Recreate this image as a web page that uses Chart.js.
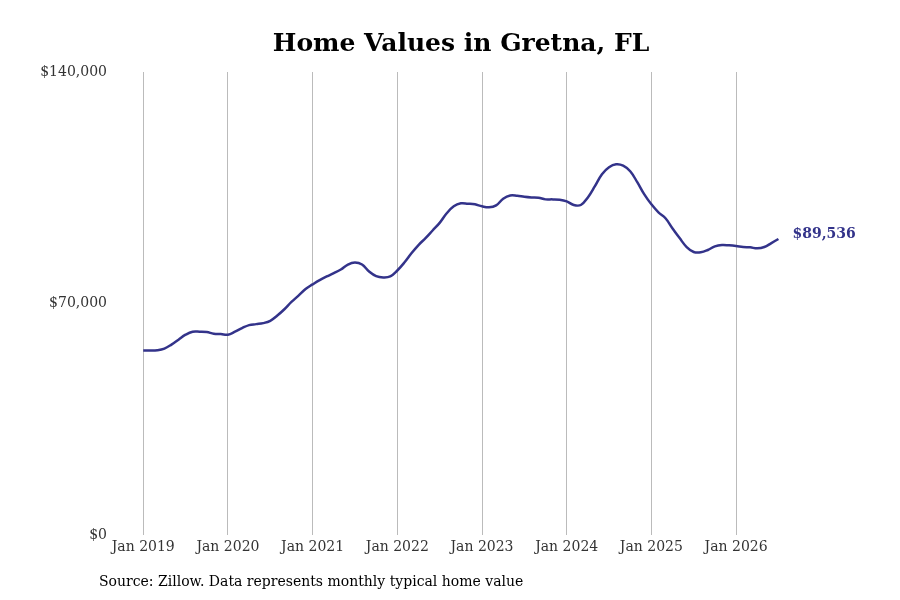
<!DOCTYPE html>
<html>
<head>
<meta charset="utf-8">
<title>Home Values in Gretna, FL</title>
<script src="https://cdn.jsdelivr.net/npm/chart.js@4.4.1/dist/chart.umd.min.js"></script>
<style>
    html, body { margin: 0; padding: 0; background: #ffffff; }
    #wrap { width: 900px; height: 600px; position: relative; }
</style>
</head>
<body>
<div id="wrap"><canvas id="homeValueChart"></canvas></div>
<script>
// Monthly typical home value, Jan 2019 - Jul 2026
const homeValues = [
    55800, 55800, 55900, 56400, 57600, 59100, 60600, 61500, 61500, 61400, 60900, 60800,   // 2019
    60600, 61500, 62600, 63500, 63800, 64100, 64800, 66400, 68300, 70500, 72400, 74400,   // 2020
    75800, 77100, 78200, 79200, 80300, 81800, 82400, 81800, 79700, 78300, 77900, 78200,   // 2021
    80000, 82400, 85200, 87700, 89800, 92100, 94400, 97300, 99400, 100300, 100200, 100000, // 2022
    99400, 99100, 99700, 101700, 102700, 102600, 102300, 102100, 102000, 101500, 101500, 101400, // 2023
    100900, 99800, 99800, 102100, 105500, 109100, 111200, 112100, 111700, 110000, 106700, 103000, // 2024
    100000, 97600, 95800, 92700, 89800, 87100, 85600, 85500, 86200, 87300, 87700, 87600,  // 2025
    87400, 87100, 87000, 86700, 87100, 88300, 89536                                       // 2026
];
const tickLabels = ['Jan 2019', 'Jan 2020', 'Jan 2021', 'Jan 2022', 'Jan 2023', 'Jan 2024', 'Jan 2025', 'Jan 2026'];
const yTicks = [0, 70000, 140000];

const titleText = 'Home Values in Gretna, FL';
const sourceText = 'Source: Zillow. Data represents monthly typical home value';

const lineColor = '#33338a';
const serif = "'DejaVu Serif', serif";

const points = homeValues.map((v, i) => ({ x: i, y: v }));

const money = v => '$' + v.toLocaleString('en-US');

// Title, last-value label and source line
const extrasPlugin = {
    id: 'extras',
    afterDatasetsDraw(chart) {
        const ctx = chart.ctx;
        const meta = chart.getDatasetMeta(0);
        const last = meta.data[meta.data.length - 1];
        ctx.save();
        ctx.textBaseline = 'middle';

        ctx.font = "bold 25px " + serif;
        ctx.fillStyle = '#000000';
        ctx.textAlign = 'center';
        ctx.fillText(titleText, 461, 44);

        ctx.textAlign = 'left';
        ctx.font = "bold 14px " + serif;
        ctx.fillStyle = lineColor;
        ctx.fillText(money(homeValues[homeValues.length - 1]), last.x + 14, last.y - 5);

        ctx.font = "14px " + serif;
        ctx.fillStyle = '#000000';
        ctx.fillText(sourceText, 99, 582);
        ctx.restore();
    }
};

const ctx = document.getElementById('homeValueChart');
new Chart(ctx.getContext('2d'), {
    type: 'line',
    data: {
        datasets: [{
            data: points,
            borderColor: lineColor,
            borderWidth: 2.5,
            pointRadius: 0,
            tension: 0.4,
            fill: false
        }]
    },
    options: {
        responsive: true,
        maintainAspectRatio: false,
        animation: false,
        layout: {
            padding: { left: 40, right: 51, top: 72, bottom: 40 }
        },
        plugins: {
            legend: { display: false },
            tooltip: { enabled: false },
            title: { display: false }
        },
        scales: {
            x: {
                type: 'linear',
                min: -4,
                max: 100,
                border: { display: false },
                grid: {
                    display: true,
                    drawTicks: false,
                    color: '#bbbbbb',
                    lineWidth: 1
                },
                afterBuildTicks: scale => {
                    scale.ticks = tickLabels.map((_, i) => ({ value: i * 12 }));
                },
                ticks: {
                    padding: 4,
                    color: '#333333',
                    font: { family: serif, size: 14 },
                    maxRotation: 0,
                    autoSkip: false,
                    callback: value => tickLabels[Math.round(value / 12)] || ''
                }
            },
            y: {
                min: 0,
                max: 140000,
                border: { display: false },
                grid: { display: false, drawTicks: false },
                afterBuildTicks: scale => {
                    scale.ticks = yTicks.map(v => ({ value: v }));
                },
                afterFit: scale => { scale.width = 75; },
                ticks: {
                    padding: 8,
                    color: '#333333',
                    font: { family: serif, size: 14 },
                    callback: value => money(value)
                }
            }
        }
    },
    plugins: [extrasPlugin]
});
</script>
</body>
</html>
